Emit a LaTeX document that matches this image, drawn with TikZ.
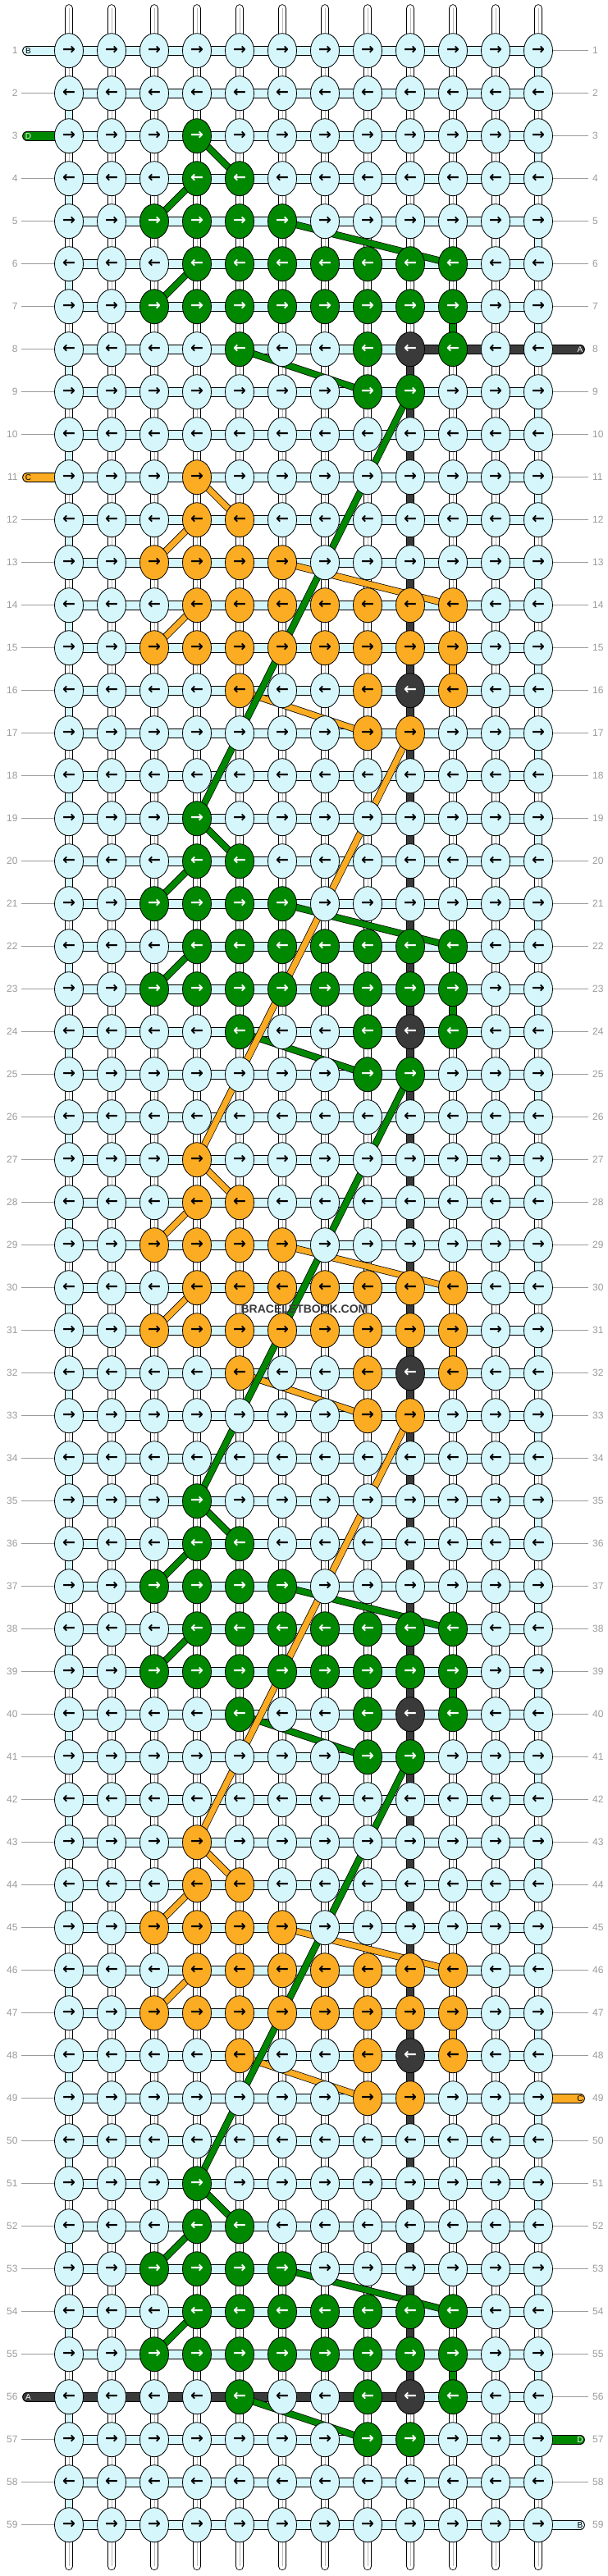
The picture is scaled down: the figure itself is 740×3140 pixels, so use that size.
\documentclass[tikz,border=0pt]{standalone}
\usepackage{fontspec}
\setmainfont{Liberation Sans}
\newfontfamily\arrowfont{DejaVu Sans}
\usetikzlibrary{shapes.geometric, positioning}
\definecolor{knotcyan}{RGB}{213,246,251}
\definecolor{leafgreen}{RGB}{0,136,0}
\definecolor{amber}{RGB}{251,172,35}
\definecolor{charcoal}{RGB}{58,58,58}
\definecolor{labelgray}{RGB}{155,155,155}
\definecolor{tubegray}{RGB}{185,185,185}

\tikzset{
  knot/.style={ellipse, draw=black, line width=0.8pt, minimum width=35pt, minimum height=42pt, inner sep=0pt,
    font=\arrowfont\bfseries\fontsize{19}{19}\selectfont},
  rowthread/.style={double=#1, double distance=10pt, line width=0.85pt},
  rowthread/.default=knotcyan,
  warp/.style={double=#1, double distance=8.5pt, line width=0.85pt},
  warp/.default=white,
  warpcore/.style={tubegray, line width=0.6pt},
  carried/.style={double=#1, double distance=7pt, line width=0.75pt},
  stub/.style={double=#1, double distance=10pt, line width=0.85pt, line cap=round},
  stubtag/.style={font=\fontsize{10}{10}\selectfont, inner sep=0pt},
  rownum/.style={text=labelgray, font=\fontsize{12}{12}\selectfont, inner sep=0pt},
  numline/.style={labelgray, line width=0.8pt},
}

\begin{document}
\begin{tikzpicture}[x=1pt, y=-1pt]
\fill[white] (0,0) rectangle (740,3140);
\useasboundingbox (0,0) rectangle (740,3140);

% knot centres
\foreach \r in {1,...,59}
  \foreach \c in {1,...,12}
    \coordinate (p-\r-\c) at ({84+52*(\c-1)}, {61.7+52*(\r-1)});

% row numbers
\foreach \r in {1,...,59}{
  \node[rownum, left=62.3pt of p-\r-1] (ln-\r) {\r};
  \node[rownum, right=66pt of p-\r-12] (rn-\r) {\r};
  \pgfmathtruncatemacro\hasl{(\r==1)+(\r==3)+(\r==11)+(\r==56)}
  \pgfmathtruncatemacro\hasr{(\r==8)+(\r==49)+(\r==57)+(\r==59)}
  \ifnum\hasl=0 \draw[numline] ([xshift=4.3pt]ln-\r.east) -- (p-\r-1); \fi
  \ifnum\hasr=0 \draw[numline] (p-\r-12) -- ([xshift=-5pt]rn-\r.west); \fi
}

% working thread, row by row
\foreach \r in {1,...,59}
  \draw[rowthread] (p-\r-1) -- (p-\r-12);

% warp threads between rows
\foreach \r in {1,...,58}
  \foreach \c in {1,...,12}{
    \pgfmathtruncatemacro\nr{\r+1}
    \pgfmathtruncatemacro\q{floor((\r-3)/8)}
    \pgfmathtruncatemacro\v{(\c==12)*(mod(\r,2)==1)+(\c==1)*(mod(\r,2)==0)+2*(\c==9)*(\r>=8)*(\r<=55)+3*(\c==10)*(\r-3-8*\q==4)*(\r<=57)}
    \ifcase\v
      \draw[warp] (p-\r-\c) -- (p-\nr-\c);
      \draw[warpcore] (p-\r-\c) -- (p-\nr-\c);
    \or \draw[warp=knotcyan] (p-\r-\c) -- (p-\nr-\c);
    \or \draw[warp=charcoal] (p-\r-\c) -- (p-\nr-\c);
    \or \ifodd\q \draw[warp=amber] (p-\r-\c) -- (p-\nr-\c);
        \else \draw[warp=leafgreen] (p-\r-\c) -- (p-\nr-\c); \fi
    \fi
  }

% loose ends top and bottom
\foreach \c in {1,...,12}{
  \coordinate[above=51.4pt of p-1-\c] (top-\c);
  \coordinate[below=50.3pt of p-59-\c] (end-\c);
  \draw[warp, line cap=round] (p-1-\c) -- (top-\c);
  \draw[warpcore] (p-1-\c) -- (top-\c);
  \draw[warp, line cap=round] (p-59-\c) -- (end-\c);
  \draw[warpcore] (p-59-\c) -- (end-\c);
}

% threads coming in and going out
\foreach \tag/\row/\from/\tone/\ink in {B/1/1/knotcyan/black, D/3/1/leafgreen/white, C/11/1/amber/black, A/56/9/charcoal/white}{
  \coordinate[left=51pt of p-\row-1] (in-\row);
  \draw[stub=\tone] (p-\row-\from) -- (in-\row);
  \node[stubtag, text=\ink] (tag-\row) at ([xshift=1.5pt]in-\row) {\tag};
}
\foreach \tag/\row/\from/\tone/\ink in {A/8/9/charcoal/white, C/49/12/amber/black, D/57/12/leafgreen/white, B/59/12/knotcyan/black}{
  \coordinate[right=51pt of p-\row-12] (out-\row);
  \draw[stub=\tone] (p-\row-\from) -- (out-\row);
  \node[stubtag, text=\ink] (tag-\row) at (out-\row) {\tag};
}

% carried threads inside each motif
\foreach \b/\tone in {3/leafgreen, 11/amber, 19/leafgreen, 27/amber, 35/leafgreen, 43/amber, 51/leafgreen}{
  \pgfmathtruncatemacro\ra{\b+1}
  \pgfmathtruncatemacro\rb{\b+2}
  \pgfmathtruncatemacro\rc{\b+3}
  \pgfmathtruncatemacro\rd{\b+4}
  \pgfmathtruncatemacro\rf{\b+5}
  \pgfmathtruncatemacro\rg{\b+6}
  \draw[carried=\tone] (p-\b-4) -- (p-\ra-5);
  \draw[carried=\tone] (p-\ra-4) -- (p-\rb-3);
  \draw[carried=\tone] (p-\rb-6) -- (p-\rc-10);
  \draw[carried=\tone] (p-\rc-4) -- (p-\rd-3);
  \draw[carried=\tone] (p-\rf-5) -- (p-\rg-8);
}
% carried threads between motifs
\foreach \r/\s/\tone in {9/19/leafgreen, 17/27/amber, 25/35/leafgreen, 33/43/amber, 41/51/leafgreen}
  \draw[carried=\tone] (p-\r-9) -- (p-\s-4);

% knots
\foreach \r in {1,...,59}
  \foreach \c in {1,...,12}{
    \pgfmathtruncatemacro\q{floor((\r-3)/8)}
    \pgfmathtruncatemacro\k{\r-3-8*\q}
    \pgfmathtruncatemacro\f{(\r>=3)*(\r<=57)*((\k==0)*(\c==4)+(\k==1)*(\c>=4)*(\c<=5)+(\k==2)*(\c>=3)*(\c<=6)+(\k==3)*(\c>=4)*(\c<=10)+(\k==4)*(\c>=3)*(\c<=10)+(\k==5)*((\c==5)+(\c==8)+(\c==10)+2*(\c==9))+(\k==6)*(\c>=8)*(\c<=9))}
    \ifcase\f \def\kfill{knotcyan}\def\kink{black}
    \or \ifodd\q \def\kfill{amber}\def\kink{black}\else \def\kfill{leafgreen}\def\kink{white}\fi
    \or \def\kfill{charcoal}\def\kink{white}
    \fi
    \ifodd\r \def\karrow{→}\else \def\karrow{←}\fi
    \node[knot, fill=\kfill, text=\kink] (k-\r-\c) at (p-\r-\c) {\karrow};
  }

% site mark
\node[font=\bfseries\fontsize{14}{14}\selectfont, text=charcoal] (sitemark) at (371,1595.3) {BRACELETBOOK.COM};
\end{tikzpicture}
\end{document}
